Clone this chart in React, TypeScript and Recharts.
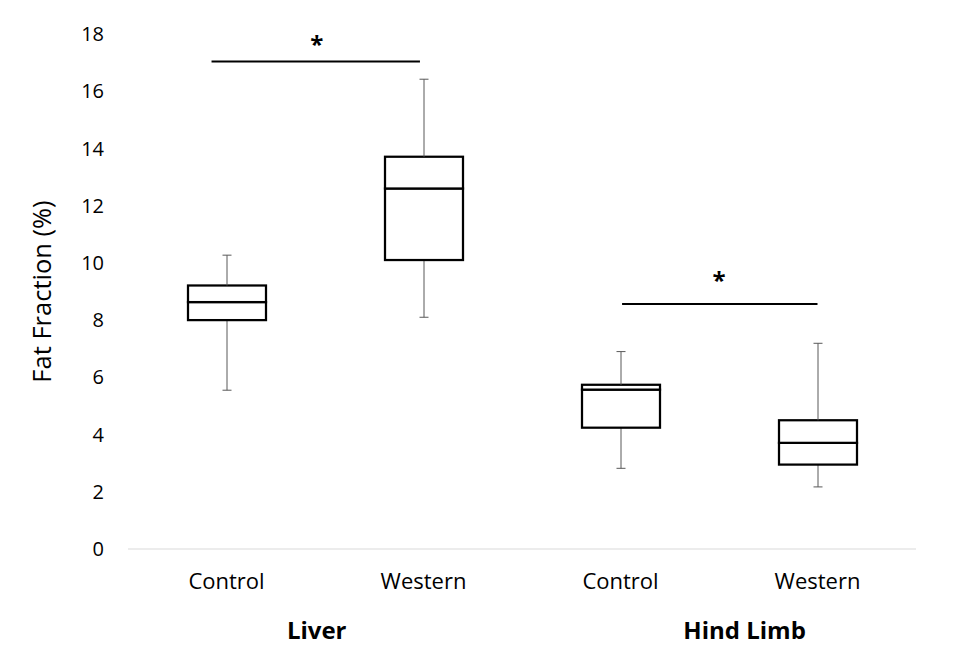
import {
  ComposedChart,
  Bar,
  XAxis,
  YAxis,
  ReferenceLine,
  ReferenceDot,
} from "recharts";

const categories = ["Control", "Western", "Control", "Western"];
const whiskerLow = [5.55, 8.1, 2.82, 2.17];
const q1 = [8.0, 10.1, 4.24, 2.95];
const median = [8.63, 12.6, 5.57, 3.71];
const q3 = [9.21, 13.71, 5.74, 4.5];
const whiskerHigh = [10.27, 16.42, 6.9, 7.19];

const yTicks = [0, 2, 4, 6, 8, 10, 12, 14, 16, 18];

// group labels and significance marks sit on a 0..4 scale across the plot
const groupNames = ["Liver", "Hind Limb"];
const groupPos = [0.958, 3.13];
const sigStart = [0.424, 2.508];
const sigEnd = [1.482, 3.5];
const sigLevel = [17.04, 8.56];
const starX = [0.958, 3.0];
const starY = [17.62, 9.39];

const data = categories.map((name, i) => ({
  name,
  slot: i + 0.5,
  base: whiskerLow[i],
  lowWhisker: q1[i] - whiskerLow[i],
  lowBox: median[i] - q1[i],
  highBox: q3[i] - median[i],
  highWhisker: whiskerHigh[i] - q3[i],
}));

const FONT = "'Open Sans', sans-serif";

function LowWhisker(props: any) {
  const { x, y, width, height } = props;
  const cx = x + width / 2;
  const yb = y + height;
  return (
    <g>
      <line x1={cx} x2={cx} y1={y} y2={yb} stroke="#595959" strokeWidth={1} />
      <line x1={cx - 4.5} x2={cx + 4.5} y1={yb} y2={yb} stroke="#595959" strokeWidth={1} />
    </g>
  );
}

function HighWhisker(props: any) {
  const { x, y, width, height } = props;
  const cx = x + width / 2;
  return (
    <g>
      <line x1={cx} x2={cx} y1={y} y2={y + height} stroke="#595959" strokeWidth={1} />
      <line x1={cx - 4.5} x2={cx + 4.5} y1={y} y2={y} stroke="#595959" strokeWidth={1} />
    </g>
  );
}

function BoxPart(props: any) {
  const { x, y, width, height } = props;
  return (
    <rect x={x} y={y} width={width} height={height} fill="#fff" stroke="#000" strokeWidth={2.25} />
  );
}

export default function App() {
  return (
    <div style={{ position: "absolute", left: 0, top: 0, background: "#fff" }}>
      <ComposedChart
        width={966}
        height={671}
        data={data}
        margin={{ top: 34, right: 50, bottom: 0, left: 0 }}
        style={{ fontFamily: FONT }}
      >
        <XAxis
          xAxisId="cat"
          dataKey="name"
          height={50}
          axisLine={{ stroke: "#d9d9d9", strokeWidth: 1 }}
          tickLine={false}
          tickSize={0}
          tickMargin={24}
          tick={{ fontSize: 22, fill: "#000", fontFamily: FONT }}
        />
        <XAxis
          xAxisId="grp"
          dataKey="slot"
          type="number"
          domain={[0, 4]}
          allowDataOverflow
          ticks={groupPos}
          interval={0}
          tickFormatter={(v: number) => groupNames[groupPos.indexOf(v)] ?? ""}
          height={72}
          axisLine={false}
          tickLine={false}
          tickSize={0}
          tickMargin={23}
          tick={{ fontSize: 24, fontWeight: 700, fill: "#000", fontFamily: FONT }}
        />
        <YAxis
          domain={[0, 18]}
          ticks={yTicks}
          interval={0}
          width={128}
          axisLine={false}
          tickLine={false}
          tickSize={0}
          tickMargin={24}
          tick={{ fontSize: 20, fill: "#000", fontFamily: FONT }}
          label={{
            value: "Fat Fraction (%)",
            angle: -90,
            position: "insideLeft",
            offset: 42,
            style: { textAnchor: "middle", fontSize: 25.5, fill: "#000", fontFamily: FONT },
          }}
        />
        <Bar xAxisId="cat" dataKey="base" stackId="a" fill="none" barSize={78} isAnimationActive={false} />
        <Bar xAxisId="cat" dataKey="lowWhisker" stackId="a" shape={LowWhisker} isAnimationActive={false} />
        <Bar xAxisId="cat" dataKey="lowBox" stackId="a" shape={BoxPart} isAnimationActive={false} />
        <Bar xAxisId="cat" dataKey="highBox" stackId="a" shape={BoxPart} isAnimationActive={false} />
        <Bar xAxisId="cat" dataKey="highWhisker" stackId="a" shape={HighWhisker} isAnimationActive={false} />
        {sigLevel.map((lv, i) => (
          <ReferenceLine
            key={"sig" + i}
            xAxisId="grp"
            segment={[
              { x: sigStart[i], y: lv },
              { x: sigEnd[i], y: lv },
            ]}
            stroke="#000"
            strokeWidth={2}
          />
        ))}
        {starX.map((sx, i) => (
          <ReferenceDot
            key={"star" + i}
            xAxisId="grp"
            x={sx}
            y={starY[i]}
            r={0}
            fill="none"
            stroke="none"
            label={{
              value: "*",
              position: "center",
              fontSize: 24,
              fontWeight: 700,
              fill: "#000",
              fontFamily: FONT,
            }}
          />
        ))}
      </ComposedChart>
    </div>
  );
}
